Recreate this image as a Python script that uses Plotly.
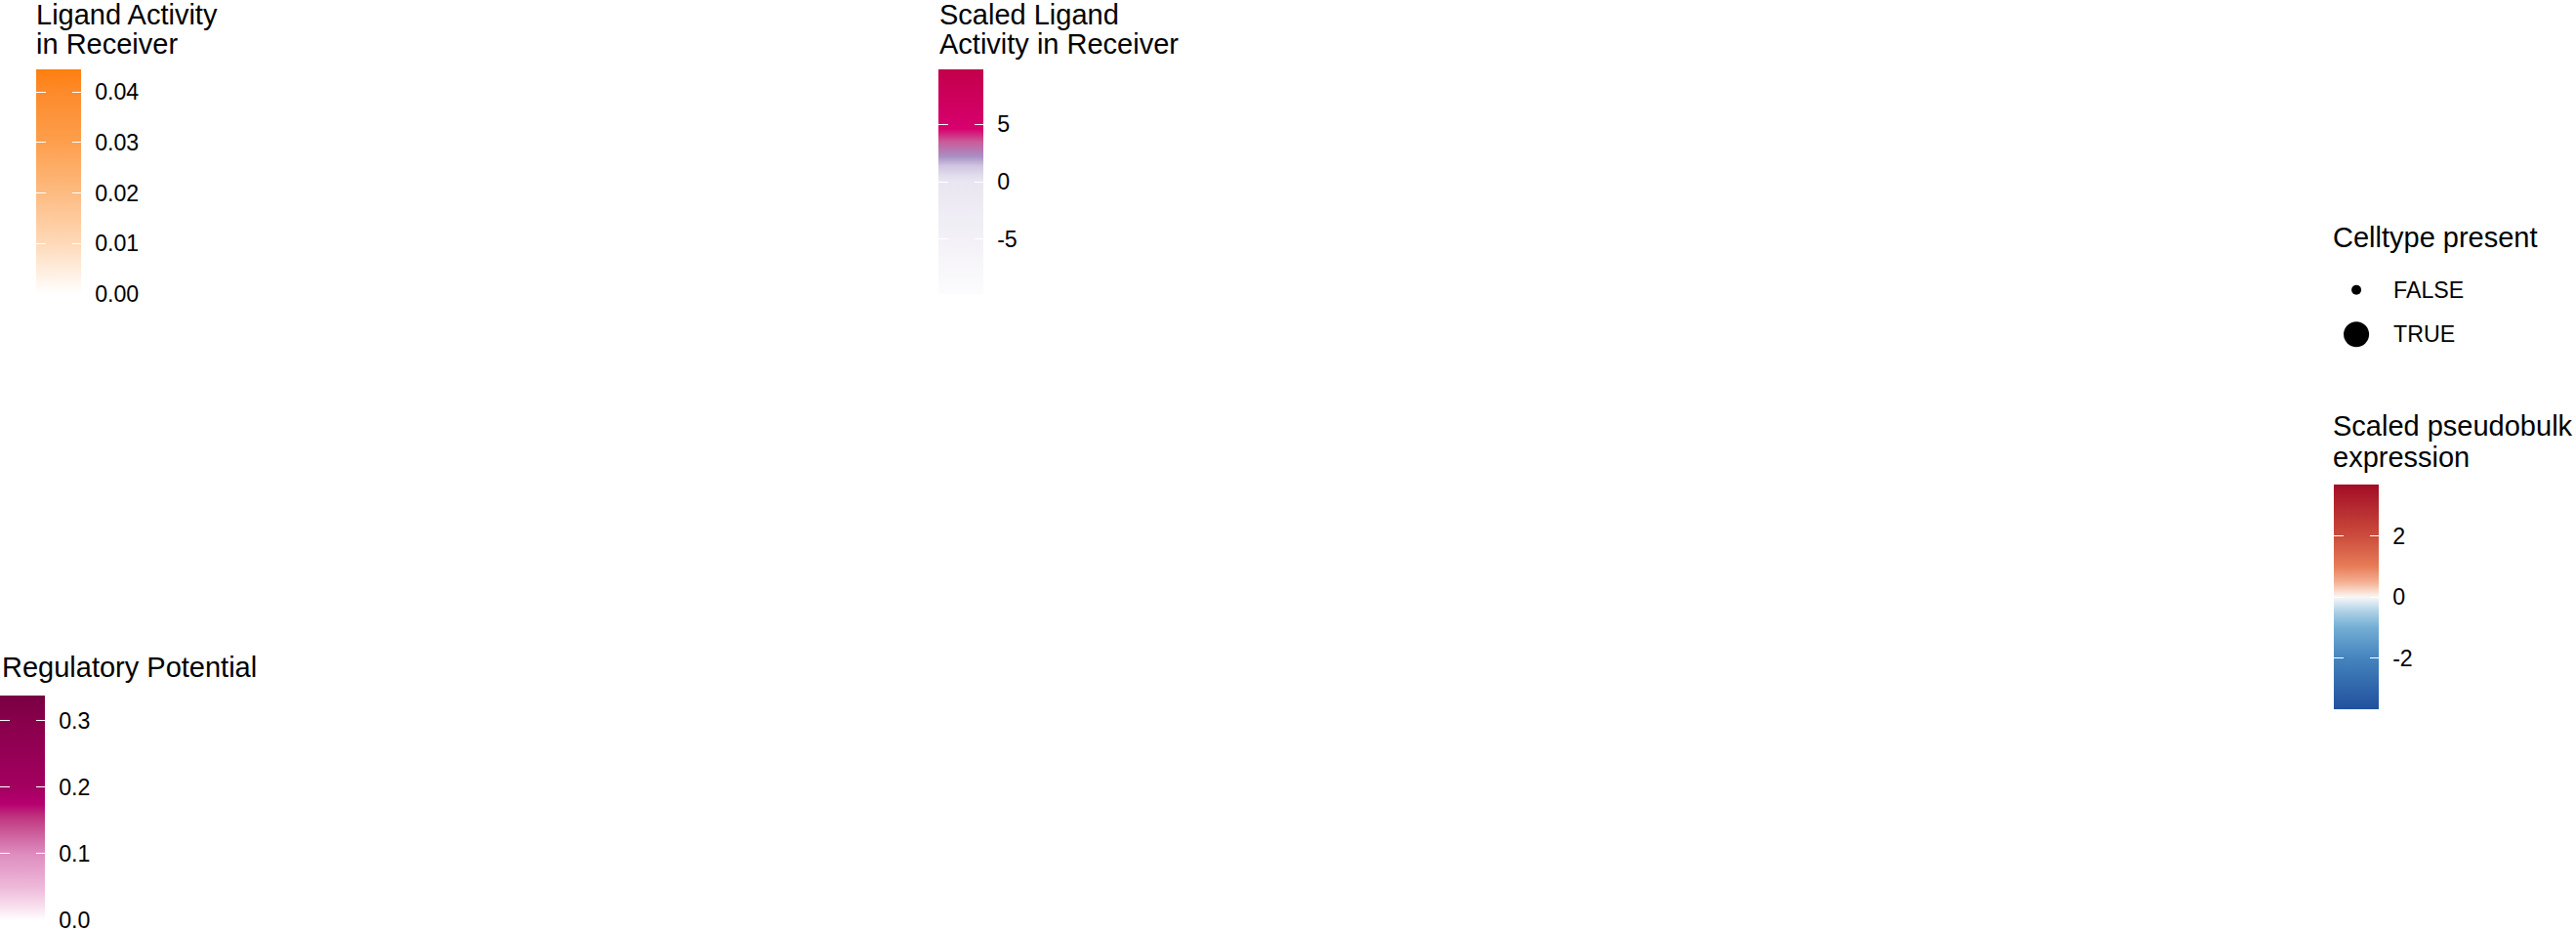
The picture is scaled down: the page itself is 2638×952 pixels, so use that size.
import plotly.graph_objects as go

W, H = 2638, 952

# ---------------- data ----------------
ligand_activity_limits = [0.0, 0.0445]
ligand_activity_breaks = [0.00, 0.01, 0.02, 0.03, 0.04]
ligand_activity_labels = ["0.00", "0.01", "0.02", "0.03", "0.04"]
ligand_activity_stop_values = [0.0, 0.01, 0.02, 0.03, 0.04, 0.0445]
ligand_activity_stop_colors = ["#ffffff", "#fed9b8", "#fdbb81", "#fd9f4d", "#fd8a2a", "#fe7f10"]

scaled_activity_limits = [-9.8, 9.8]
scaled_activity_breaks = [-5, 0, 5]
scaled_activity_labels = ["-5", "0", "5"]
scaled_activity_stop_values = [-9.8, -5, 0, 0.5, 1.4, 2.2, 3.5, 4.6, 9.8]
scaled_activity_stop_colors = ["#fcfbfd", "#f3f1f7", "#e9e6f1", "#e3deee", "#cfc4e0",
                               "#a98fc4", "#ca5a98", "#d8006f", "#c3004a"]

pseudobulk_limits = [-3.68, 3.68]
pseudobulk_breaks = [-2, 0, 2]
pseudobulk_labels = ["-2", "0", "2"]
pseudobulk_stop_values = [-3.68, -2, -1, -0.5, -0.15, 0, 0.15, 0.5, 1, 2, 3.68]
pseudobulk_stop_colors = ["#21509d", "#4584be", "#74aed4", "#aacfe4", "#e2edf4", "#f8f6f5",
                          "#fbe0d3", "#f3ae90", "#e77c58", "#cb4c3c", "#a30c26"]

regulatory_limits = [0.0, 0.338]
regulatory_breaks = [0.0, 0.1, 0.2, 0.3]
regulatory_labels = ["0.0", "0.1", "0.2", "0.3"]
regulatory_stop_values = [0.0, 0.02, 0.05, 0.1, 0.13, 0.155, 0.175, 0.2, 0.3, 0.338]
regulatory_stop_colors = ["#ffffff", "#f8e1ef", "#eeb8d8", "#de8cbf", "#cc5f9c", "#c0347f",
                          "#b6006f", "#a30060", "#88004b", "#790042"]

celltype_present = ["FALSE", "TRUE"]

# ---------------- styles ----------------
TITLE_SIZE = 29
TEXT_SIZE = 23.2
FONT = "Liberation Sans, Arial, sans-serif"
BAR_THICK = 46
BAR_LEN = 230
LABEL_GAP = 10
celltype_marker_size = {"FALSE": 10, "TRUE": 26}
CLEAR = "rgba(0,0,0,0)"


def fx(px):
    return px / W


def fy(py):
    return 1 - py / H


def make_scale(values, colors):
    lo, hi = values[0], values[-1]
    return [[(v - lo) / (hi - lo), c] for v, c in zip(values, colors)]


fig = go.Figure()


def cb_trace(limits, colorscale, colorbar):
    return go.Scatter(
        x=[None], y=[None], mode="markers", showlegend=False, hoverinfo="skip",
        marker=dict(color=[limits[0]], colorscale=colorscale, cmin=limits[0],
                    cmax=limits[1], showscale=True, colorbar=colorbar),
    )


def add_colorbar(limits, breaks, labels, stop_vals, stop_cols, left_px, top_px):
    common = dict(
        xanchor="left", xpad=0, y=fy(top_px), yanchor="top", ypad=0,
        len=BAR_LEN, lenmode="pixels", thicknessmode="pixels",
        outlinewidth=0, borderwidth=0,
        tickmode="array", tickvals=breaks, ticktext=labels,
    )
    # main gradient bar with labels
    fig.add_trace(cb_trace(limits, make_scale(stop_vals, stop_cols), dict(
        common, x=fx(left_px), thickness=BAR_THICK,
        ticks="outside", ticklen=LABEL_GAP, tickcolor=CLEAR,
        ticklabeloverflow="allow",
        tickfont=dict(size=TEXT_SIZE, family=FONT, color="black"),
    )))
    clear_cs = [[0, CLEAR], [1, CLEAR]]
    # white ticks on right edge, inside
    fig.add_trace(cb_trace(limits, clear_cs, dict(
        common, x=fx(left_px), thickness=BAR_THICK, showticklabels=False,
        ticks="inside", ticklen=9, tickwidth=1.3, tickcolor="white",
    )))
    # white ticks on left edge, inside
    fig.add_trace(cb_trace(limits, clear_cs, dict(
        common, x=fx(left_px - 1), thickness=1, showticklabels=False,
        ticks="outside", ticklen=10, tickwidth=1.3, tickcolor="white",
    )))


add_colorbar(ligand_activity_limits, ligand_activity_breaks, ligand_activity_labels,
             ligand_activity_stop_values, ligand_activity_stop_colors, 37, 71)
add_colorbar(scaled_activity_limits, scaled_activity_breaks, scaled_activity_labels,
             scaled_activity_stop_values, scaled_activity_stop_colors, 961, 71)
add_colorbar(pseudobulk_limits, pseudobulk_breaks, pseudobulk_labels,
             pseudobulk_stop_values, pseudobulk_stop_colors, 2390, 496)
add_colorbar(regulatory_limits, regulatory_breaks, regulatory_labels,
             regulatory_stop_values, regulatory_stop_colors, 0, 712)

# Celltype present legend keys (size scale)
fig.add_trace(go.Scatter(
    x=[0 for _ in celltype_present], y=celltype_present, mode="markers",
    xaxis="x2", yaxis="y2", showlegend=False, hoverinfo="skip",
    marker=dict(color="#000000", opacity=1,
                size=[celltype_marker_size[c] for c in celltype_present],
                line=dict(width=0)),
))

# titles (text, left x px, baseline y px)
titles = [
    ("Ligand Activity", 35, 25),
    ("in Receiver", 35, 55),
    ("Scaled Ligand", 960, 25),
    ("Activity in Receiver", 960, 55),
    ("Celltype present", 2388, 253),
    ("Scaled pseudobulk", 2388, 446),
    ("expression", 2388, 478),
    ("Regulatory Potential", 0, 693),
]
annotations = []
for txt, xpx, base in titles:
    annotations.append(dict(
        text=txt, x=fx(xpx), y=fy(base - 0.33 * TITLE_SIZE), xref="paper", yref="paper",
        xanchor="left", yanchor="middle", showarrow=False, borderpad=0,
        font=dict(size=TITLE_SIZE, family=FONT, color="black"),
    ))

fig.update_layout(
    width=W, height=H,
    margin=dict(l=0, r=0, t=0, b=0),
    paper_bgcolor="white", plot_bgcolor="white",
    xaxis=dict(visible=False, domain=[0, 0.01]),
    yaxis=dict(visible=False, domain=[0, 0.01]),
    xaxis2=dict(domain=[fx(2390), fx(2446)], range=[-23, 33], visible=False, fixedrange=True),
    yaxis2=dict(domain=[fy(365), fy(274)], anchor="x2", side="right",
                type="category", categoryorder="array", categoryarray=["TRUE", "FALSE"],
                range=[-0.5, 1.5], showgrid=False, zeroline=False, showline=False,
                ticks="", ticklabelstandoff=4,
                tickfont=dict(size=TEXT_SIZE, family=FONT, color="black")),
    annotations=annotations,
    showlegend=False,
)

fig.write_html("out.html")
